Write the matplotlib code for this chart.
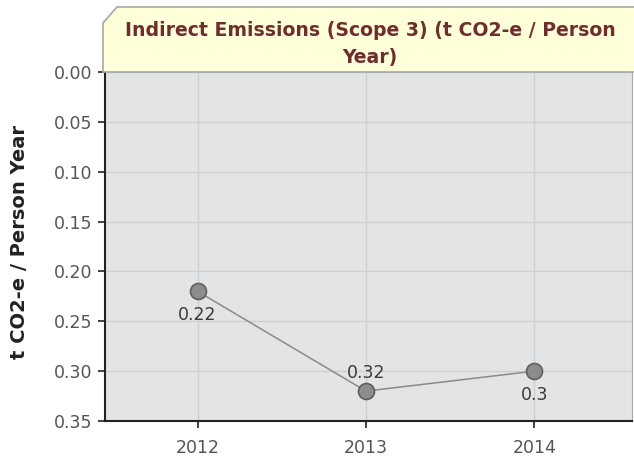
import matplotlib.pyplot as plt
from matplotlib.patches import Polygon

# data
years = [2012, 2013, 2014]
values = [0.22, 0.32, 0.30]
value_labels = ['0.22', '0.32', '0.3']
label_pos = ['below', 'above', 'below']
y_ticks = [0.00, 0.05, 0.10, 0.15, 0.20, 0.25, 0.30, 0.35]

W, H = 634, 458
fig = plt.figure(figsize=(W / 100, H / 100), dpi=100)
fig.patch.set_facecolor('white')

def fx(px):
    return px / W

def fy(py):
    return 1 - py / H

# plot area in pixels
left, right, top, bottom = 105, 632, 72, 421
ax = fig.add_axes([fx(left), fy(bottom), fx(right - left), (bottom - top) / H])
ax.set_facecolor('#e3e4e6')

ax.plot(years, values, color='#8a8a8a', lw=1.1, zorder=3)
ax.plot(years, values, 'o', ms=11.5, mfc='#8c8c8c', mec='#5e5e5e', mew=1.2, zorder=4)

for x, v, t, p in zip(years, values, value_labels, label_pos):
    off = -17 if p == 'below' else 13
    ax.annotate(t, (x, v), xytext=(0, off), textcoords='offset points',
                ha='center', va='center', fontsize=12.5, color='#3a3a3a',
                family='DejaVu Sans', zorder=5)

ax.set_ylim(0.35, 0.0)
ax.set_xlim(2011.45, 2014.58)
ax.set_yticks(y_ticks)
ax.set_yticklabels([f'{v:.2f}' for v in y_ticks])
ax.set_xticks(years)
ax.grid(True, color='#d0d0d0', lw=1)
ax.set_axisbelow(True)

for lab in ax.get_xticklabels() + ax.get_yticklabels():
    lab.set_family('DejaVu Sans')
    lab.set_fontsize(12.5)
    lab.set_color('#555555')
ax.tick_params(axis='both', direction='out', length=5, width=1.2, color='#222222')
ax.tick_params(axis='y', pad=4)
ax.tick_params(axis='x', pad=8)

ax.spines['left'].set_color('#222222')
ax.spines['left'].set_linewidth(1.5)
ax.spines['bottom'].set_color('#222222')
ax.spines['bottom'].set_linewidth(1.5)
ax.spines['right'].set_color('#a8a8a8')
ax.spines['top'].set_visible(False)

fig.text(fx(20), fy(242), 't CO2-e / Person Year', rotation=90,
         ha='center', va='center', fontsize=14, fontweight='bold',
         family='DejaVu Sans', color='#222222')

# title tab with beveled corner
pts = [(103, 72), (103, 23), (117, 7), (640, 7), (640, 72)]
tab = Polygon([(fx(x), fy(y)) for x, y in pts], closed=True,
              transform=fig.transFigure, facecolor='#ffffd9',
              edgecolor='#a8a8a8', lw=1.2, zorder=1)
fig.patches.append(tab)
fig.text(fx(370), fy(44), 'Indirect Emissions (Scope 3) (t CO2-e / Person\nYear)',
         ha='center', va='center', fontsize=13.6, fontweight='bold',
         color='#6e2e2e', family='DejaVu Sans', linespacing=1.5)

fig.savefig('out.png', dpi=100)
